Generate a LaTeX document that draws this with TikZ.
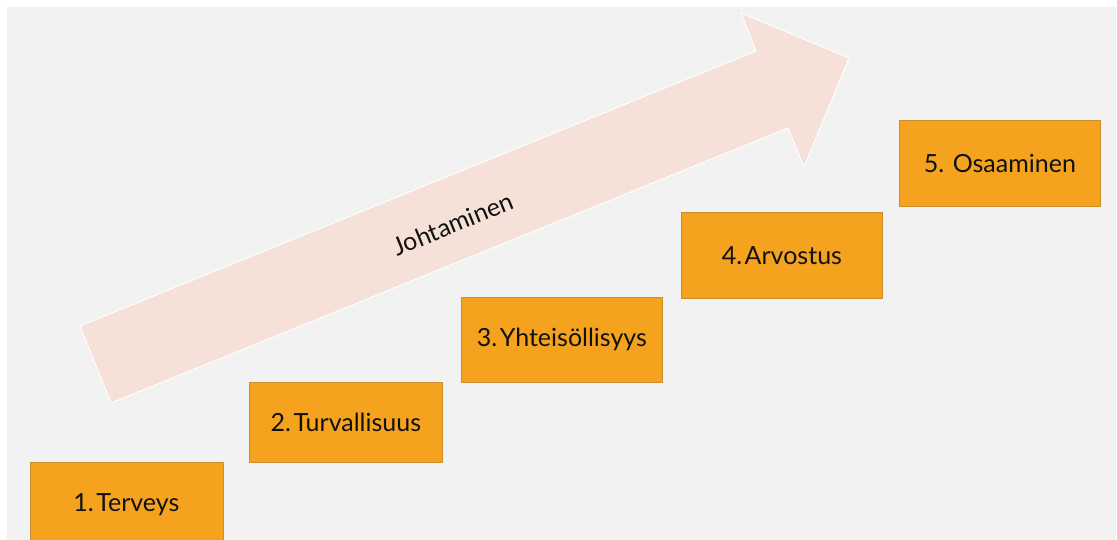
\documentclass[tikz,border=0pt]{standalone}
\usepackage{fontspec}
\setmainfont{Lato}
\definecolor{bggray}{HTML}{F2F2F2}
\definecolor{boxfill}{HTML}{F5A31E}
\definecolor{boxline}{HTML}{C98F2C}
\definecolor{arrowfill}{HTML}{F5E1D7}
\definecolor{txt}{HTML}{111111}
\newcommand{\dsp}{\hspace{2.5pt}}
\tikzset{
  stepbox/.style={draw=boxline, line width=0.8pt, fill=boxfill, text=txt,
    minimum width=#1, inner sep=0pt, font=\fontsize{25}{28}\selectfont},
  stepbox/.default=201pt,
}
\begin{document}
\begin{tikzpicture}[x=1pt,y=-1pt]
\useasboundingbox (0,0) rectangle (1117,540);
\clip (0,0) rectangle (1117,540);
\fill[bggray] (7,7) rectangle (1116,540);
\draw[white, line width=1pt, fill=arrowfill]
  (80,326) -- (756,51) -- (741,13) -- (849,58) -- (804,167) -- (788,128) -- (111,403) -- cycle;
\node[rotate=22.1, text=txt, font=\fontsize{25}{28}\selectfont] (lead) at (453,224) {Johtaminen};
\node[stepbox=193pt, minimum height=85pt, anchor=north west] (s1) at (29.5,462) {1.\dsp Terveys};
\node[stepbox=193pt, minimum height=80pt, anchor=north west] (s2) at (249,382) {2.\dsp Turvallisuus};
\node[stepbox, minimum height=85pt, anchor=north west] (s3) at (461,297) {3.\dsp Yhteisöllisyys};
\node[stepbox, minimum height=86pt, anchor=north west] (s4) at (681,212) {4.\dsp Arvostus};
\node[stepbox, minimum height=86pt, anchor=north west] (s5) at (899,120) {5. Osaaminen};
\end{tikzpicture}
\end{document}
